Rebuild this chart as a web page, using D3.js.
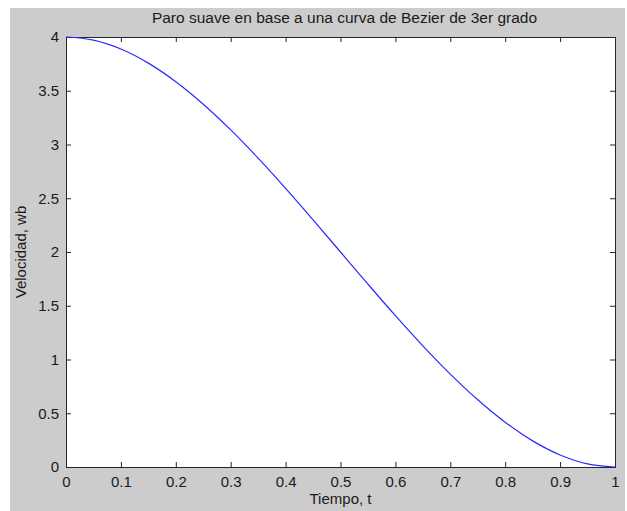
<!DOCTYPE html>
<html><head><meta charset="utf-8">
<script src="https://cdn.jsdelivr.net/npm/d3@7"></script>
<style>body{margin:0;background:#fff}svg{display:block}text{font-family:"Liberation Sans",Arial,sans-serif;fill:#1a1a1a}</style>
</head><body><svg id="c" width="627" height="511"></svg>
<script>
const title = "Paro suave en base a una curva de Bezier de 3er grado";
const xLabel = "Tiempo, t";
const yLabel = "Velocidad, wb";
const tValues = [0,0.05,0.1,0.15,0.2,0.25,0.3,0.35,0.4,0.45,0.5,0.55,0.6,0.65,0.7,0.75,0.8,0.85,0.9,0.95,1];
const velValues = [4.0,3.971,3.888,3.757,3.584,3.375,3.136,2.873,2.592,2.299,2.0,1.701,1.408,1.127,0.864,0.625,0.416,0.243,0.112,0.029,0.0];
const xTicks = [0,0.1,0.2,0.3,0.4,0.5,0.6,0.7,0.8,0.9,1];
const xTickLabels = ["0","0.1","0.2","0.3","0.4","0.5","0.6","0.7","0.8","0.9","1"];
const yTicks = [0,0.5,1,1.5,2,2.5,3,3.5,4];
const yTickLabels = ["0","0.5","1","1.5","2","2.5","3","3.5","4"];

const svg = d3.select("#c");
svg.append("rect").attr("x",10).attr("y",8).attr("width",615).attr("height",503).attr("fill","#cccccc");
const L=66,R=615,T=37,B=467;
const x = d3.scaleLinear().domain([0,1]).range([L,R]);
const y = d3.scaleLinear().domain([0,4]).range([B,T]);
svg.append("rect").attr("x",L).attr("y",T).attr("width",R-L).attr("height",B-T).attr("fill","#fff");

const tk=5, fs=15;
const axB = d3.axisBottom(x).tickValues(xTicks).tickFormat((d,i)=>xTickLabels[i]).tickSize(-tk).tickPadding(9);
const axT = d3.axisTop(x).tickValues(xTicks).tickFormat("").tickSize(-tk);
const axL = d3.axisLeft(y).tickValues(yTicks).tickFormat((d,i)=>yTickLabels[i]).tickSize(-tk).tickPadding(7);
const axR = d3.axisRight(y).tickValues(yTicks).tickFormat("").tickSize(-tk);
function style(g){g.select(".domain").attr("stroke","#262626");g.selectAll(".tick line").attr("stroke","#262626");g.selectAll("text").attr("font-size",fs).attr("fill","#1a1a1a").attr("font-family",'"Liberation Sans",Arial,sans-serif');}
svg.append("g").attr("transform",`translate(0,${B})`).call(axB).call(style);
svg.append("g").attr("transform",`translate(0,${T})`).call(axT).call(style);
svg.append("g").attr("transform",`translate(${L},0)`).call(axL).call(style);
svg.append("g").attr("transform",`translate(${R},0)`).call(axR).call(style);

const pts = tValues.map((t,i)=>[t,velValues[i]]);
svg.append("path").datum(pts).attr("fill","none").attr("stroke","#2a2aff").attr("stroke-width",1.2)
  .attr("d",d3.line().x(d=>x(d[0])).y(d=>y(d[1])).curve(d3.curveMonotoneX));

svg.append("text").attr("x",(L+R)/2+4).attr("y",23).attr("text-anchor","middle").attr("font-size",15.5).text(title);
svg.append("text").attr("x",(L+R)/2).attr("y",504).attr("text-anchor","middle").attr("font-size",fs).text(xLabel);
svg.append("text").attr("transform",`translate(26,${(T+B)/2}) rotate(-90)`).attr("text-anchor","middle").attr("font-size",fs).text(yLabel);
</script></body></html>
